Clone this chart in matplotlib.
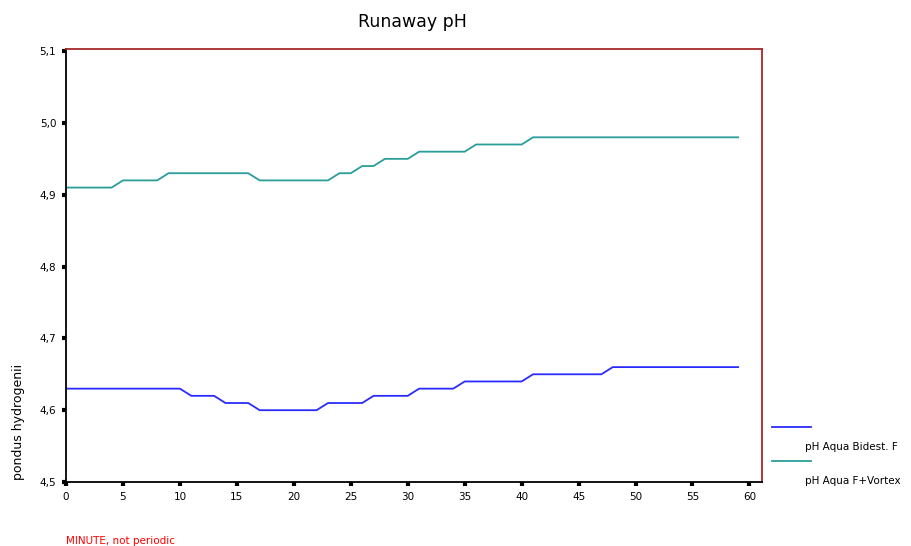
import numpy as np
import matplotlib
matplotlib.use("Agg")
import matplotlib.pyplot as plt
from matplotlib.lines import Line2D

# minutes 0..59
minutes = list(range(60))

# pH Aqua Bidest. F  (value, run length in minutes)
bidest_steps = [(4.63, 11), (4.62, 3), (4.61, 3), (4.60, 6), (4.61, 4),
                (4.62, 4), (4.63, 4), (4.64, 6), (4.65, 7), (4.66, 12)]
# pH Aqua F+Vortex
vortex_steps = [(4.91, 5), (4.92, 4), (4.93, 8), (4.92, 7), (4.93, 2),
                (4.94, 2), (4.95, 3), (4.96, 5), (4.97, 5), (4.98, 19)]

bidest = [v for v, n in bidest_steps for _ in range(n)]
vortex = [v for v, n in vortex_steps for _ in range(n)]

series_names = ["pH Aqua Bidest. F", "pH Aqua F+Vortex"]
series_colors = ["#2b2bff", "#2a9d9a"]

x_ticks = list(range(0, 61, 5))
y_ticks = [4.5, 4.6, 4.7, 4.8, 4.9, 5.0, 5.1]
y_labels = ["4,5", "4,6", "4,7", "4,8", "4,9", "5,0", "5,1"]

fig = plt.figure(figsize=(9.12, 5.46), dpi=100)
ax = fig.add_axes([0.0724, 0.1172, 0.7631, 0.7931])

ax.plot(minutes, bidest, color=series_colors[0], lw=1.3)
ax.plot(minutes, vortex, color=series_colors[1], lw=1.3)

ax.set_xlim(0, 61.1)
ax.set_ylim(4.5, 5.103)
ax.set_xticks(x_ticks)
ax.set_yticks(y_ticks)
ax.set_yticklabels(y_labels)
ax.tick_params(axis="both", length=3, width=3, labelsize=7.5, pad=4, color="black")

for side in ["left", "bottom"]:
    ax.spines[side].set_color("black")
    ax.spines[side].set_linewidth(1.3)
for side in ["top", "right"]:
    ax.spines[side].set_color("#a52a2a")
    ax.spines[side].set_linewidth(1.3)

fig.text(0.452, 0.96, "Runaway pH", ha="center", va="center", fontsize=12.5)
fig.text(0.02, 0.227, "pondus hydrogenii", rotation=90, ha="center",
         va="center", fontsize=9)
fig.text(0.072, 0.0, "MINUTE, not periodic", color="red", fontsize=7.5,
         ha="left", va="bottom")

# legend drawn by hand at the right
for i, (name, col) in enumerate(zip(series_names, series_colors)):
    ly = 1 - (427 + 34 * i) / 546
    ty = 1 - (447 + 34 * i) / 546
    fig.add_artist(Line2D([772 / 912, 811 / 912], [ly, ly], color=col, lw=1.3))
    fig.text(805 / 912, ty, name, fontsize=7.5, ha="left", va="center")

fig.savefig("out.png", dpi=100)
